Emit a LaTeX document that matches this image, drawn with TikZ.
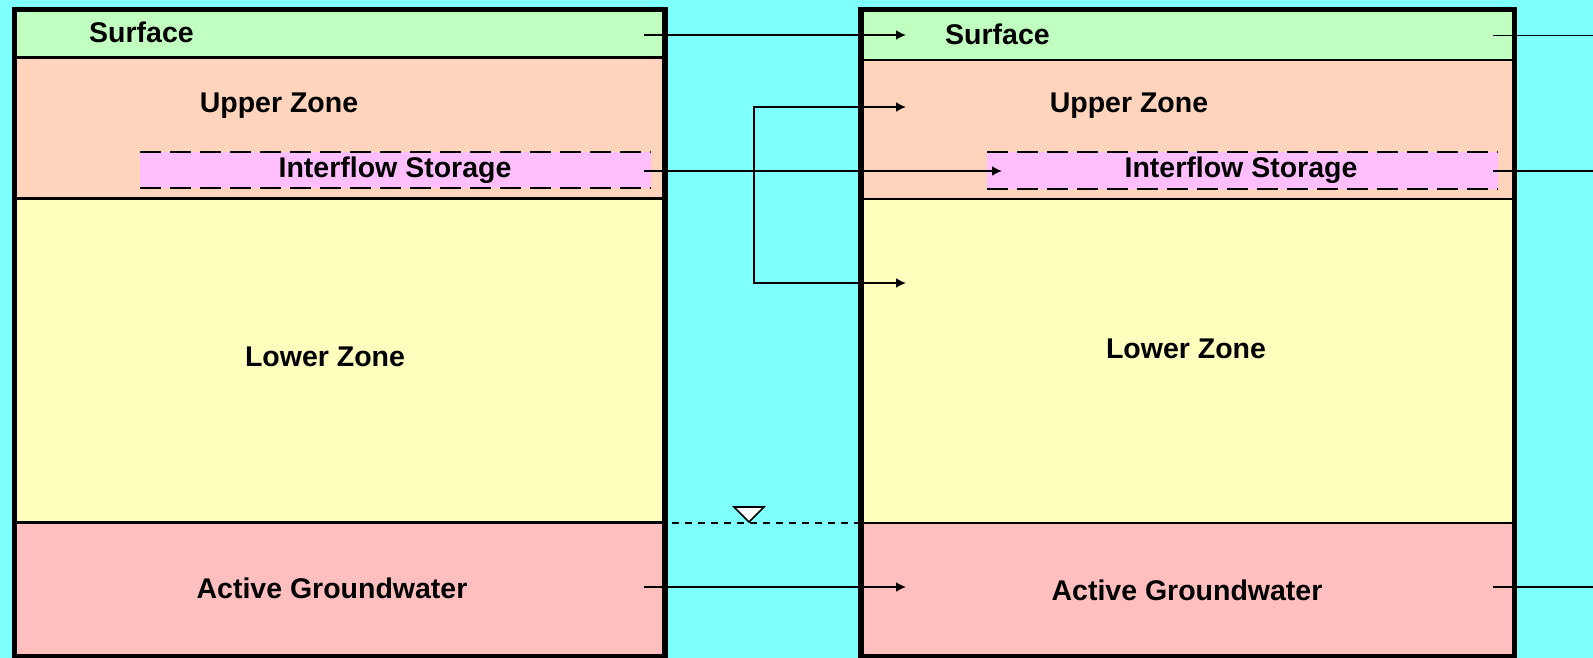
\documentclass[tikz,border=0pt]{standalone}
\usepackage{fontspec}
\setmainfont{Liberation Sans}
\usetikzlibrary{arrows.meta}
\definecolor{bgcyan}{HTML}{80FFFF}
\definecolor{surf}{HTML}{C0FFC0}
\definecolor{upper}{HTML}{FFD4BC}
\definecolor{inter}{HTML}{FFBFFF}
\definecolor{lower}{HTML}{FFFFBE}
\definecolor{ground}{HTML}{FFBFBF}
\tikzset{
  lbl/.style={font=\fontsize{28.5}{34}\selectfont\bfseries, inner sep=0pt, text=black},
  tip/.tip={Latex[length=10pt,width=10pt]},
  flow/.style={line width=1.8pt, -tip},
  flowend/.style={line width=1.8pt},
  outer/.style={line width=5.5pt},
  divthick/.style={line width=3pt},
  divthin/.style={line width=1.4pt},
  idash/.style={line width=2pt, dash pattern=on 21pt off 9pt},
  wdash/.style={line width=2pt, dash pattern=on 7pt off 6pt}
}
\begin{document}
\begin{tikzpicture}[x=1pt,y=-1pt]
\useasboundingbox (0,0) rectangle (1593,658);
\fill[bgcyan] (0,0) rectangle (1593,658);
% ---- left column ----
\fill[surf]   (14.5,9.5) rectangle (665,58);
\fill[upper]  (14.5,58) rectangle (665,198);
\fill[lower]  (14.5,198) rectangle (665,522);
\fill[ground] (14.5,522) rectangle (665,657);
\fill[inter]  (140,152) rectangle (651,188);
\draw[idash] (140,152) -- (651,152) (140,188) -- (651,188);
\draw[divthick] (14.5,58) -- (665,58) (14.5,198) -- (665,198) (14.5,522) -- (665,522);
\draw[outer] (14.5,9.5) rectangle (665,657);
% ---- right column ----
\fill[surf]   (861,9.5) rectangle (1514.5,60);
\fill[upper]  (861,60) rectangle (1514.5,199);
\fill[lower]  (861,199) rectangle (1514.5,523);
\fill[ground] (861,523) rectangle (1514.5,657);
\fill[inter]  (987,152) rectangle (1498,189);
\draw[idash] (987,152) -- (1498,152) (987,189) -- (1498,189);
\draw[divthin] (861,60) -- (1514.5,60) (861,199) -- (1514.5,199) (861,523) -- (1514.5,523);
\draw[outer] (861,9.5) rectangle (1514.5,657);
% ---- labels ----
\node[lbl, anchor=base west] (surfL) at (89,43) {Surface};
\node[lbl, anchor=base] (upL) at (279,113) {Upper Zone};
\node[lbl, anchor=base] (intL) at (395,178) {Interflow Storage};
\node[lbl, anchor=base] (lowL) at (325,366) {Lower Zone};
\node[lbl, anchor=base] (gwL) at (332,598) {Active Groundwater};
\node[lbl, anchor=base west] (surfR) at (945,45) {Surface};
\node[lbl, anchor=base] (upR) at (1129,113) {Upper Zone};
\node[lbl, anchor=base] (intR) at (1241,178) {Interflow Storage};
\node[lbl, anchor=base] (lowR) at (1186,358) {Lower Zone};
\node[lbl, anchor=base] (gwR) at (1187,600) {Active Groundwater};
% ---- connector end points ----
\coordinate (sOut) at (644,35);
\coordinate (sIn) at (906,35);
\coordinate (iOut) at (644,171);
\coordinate (iIn) at (1002,171);
\coordinate (uIn) at (906,107);
\coordinate (lIn) at (906,283);
\coordinate (bend1) at (754,107);
\coordinate (bend2) at (754,283);
\coordinate (gOut) at (644,587);
\coordinate (gIn) at (906,587);
\coordinate (sOutR) at (1493,35.5);
\coordinate (sEndR) at (1593,35.5);
\coordinate (iOutR) at (1493,171);
\coordinate (iEndR) at (1593,171);
\coordinate (gOutR) at (1493,587);
\coordinate (gEndR) at (1593,587);
% ---- connectors ----
\draw[flow] (sOut) -- (sIn);
\draw[flow] (iOut) -- (iIn);
\draw[line width=1.8pt, tip-tip] (uIn) -- (bend1) -- (bend2) -- (lIn);
\draw[flow] (gOut) -- (gIn);
\draw[flowend] (sOutR) -- (sEndR);
\draw[flowend] (iOutR) -- (iEndR);
\draw[flowend] (gOutR) -- (gEndR);
% ---- water table ----
\coordinate (wtA) at (672,522.5);
\coordinate (wtB) at (858,522.5);
\draw[wdash] (wtA) -- (wtB);
\draw[fill=white, line width=1.6pt, line join=miter] (734,507) -- (764,507) -- (749,522) -- cycle;
\end{tikzpicture}
\end{document}
